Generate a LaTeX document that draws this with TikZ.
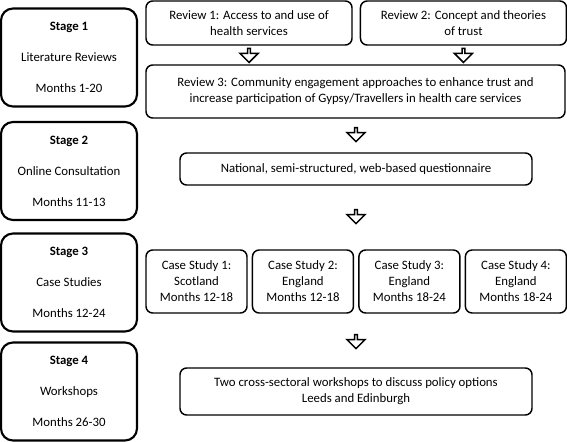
\documentclass[tikz,border=0pt]{standalone}
\usepackage{fontspec}
\setmainfont{Carlito}
\usepackage{tikz}
\usetikzlibrary{positioning}
\usetikzlibrary{shapes.arrows}
\tikzstyle{stagebox} = [draw,line width=1.6pt,rounded corners=9pt,minimum width=102pt,minimum height=73.5pt,align=center,inner sep=0pt]
\tikzstyle{taskbox} = [draw,line width=1.1pt,rounded corners=5pt,align=center,inner sep=0pt]
\tikzstyle{downarrow} = [draw,line width=1.1pt,single arrow,shape border rotate=270,minimum height=10.5pt,minimum width=13.5pt,single arrow head extend=3pt,inner sep=0pt]

\begin{document}
\begin{tikzpicture}[x=0.75pt,y=-0.75pt,font=\fontsize{9.6}{12}\selectfont]
\useasboundingbox (0,0) rectangle (567,442);

%Stages
\node[stagebox] (stage1) at (69,57.5) {\textbf{Stage 1}\\[11.25pt]Literature Reviews\\[11.25pt]Months 1-20};
\node[stagebox] (stage2) at (69,171) {\textbf{Stage 2}\\[11.25pt]Online Consultation\\[11.25pt]Months 11-13};
\node[stagebox] (stage3) at (69,282.5) {\textbf{Stage 3}\\[11.25pt]Case Studies\\[11.25pt]Months 12-24};
\node[stagebox] (stage4) at (69,391.5) {\textbf{Stage 4}\\[11.25pt]Workshops\\[11.25pt]Months 26-30};

%Reviews
\node[taskbox,minimum width=154.5pt,minimum height=33pt] (rev1) at (249,23) {Review 1: Access to and use of\\health services};
\node[taskbox,minimum width=154.5pt,minimum height=33pt,right=5.25pt of rev1] (rev2) {Review 2: Concept and theories\\of trust};
\node[taskbox,minimum width=314.25pt,minimum height=39.75pt] (rev3) at (355.5,91.5) {Review 3: Community engagement approaches to enhance trust and\\increase participation of Gypsy/Travellers in health care services};

%Consultation
\node[taskbox,minimum width=264pt,minimum height=24pt] (survey) at (356,169) {National, semi-structured, web-based questionnaire};

%Case studies
\node[taskbox,minimum width=75.75pt,minimum height=47.25pt] (case1) at (196.5,281.5) {Case Study 1:\\Scotland\\Months 12-18};
\node[taskbox,minimum width=75.75pt,minimum height=47.25pt,right=3pt of case1] (case2) {Case Study 2:\\England\\Months 12-18};
\node[taskbox,minimum width=75.75pt,minimum height=47.25pt,right=3pt of case2] (case3) {Case Study 3:\\England\\Months 18-24};
\node[taskbox,minimum width=75.75pt,minimum height=47.25pt,right=3pt of case3] (case4) {Case Study 4:\\England\\Months 18-24};

%Workshops
\node[taskbox,minimum width=264pt,minimum height=35.25pt] (work) at (356,391.5) {Two cross-sectoral workshops to discuss policy options\\Leeds and Edinburgh};

%Arrows
\node[downarrow,below=1.5pt of rev1] (arr1) {};
\node[downarrow,below=1.5pt of rev2] (arr2) {};
\node[downarrow] (arr3) at (356,134) {};
\node[downarrow] (arr4) at (356,216) {};
\node[downarrow] (arr5) at (356,341) {};

\end{tikzpicture}
\end{document}
